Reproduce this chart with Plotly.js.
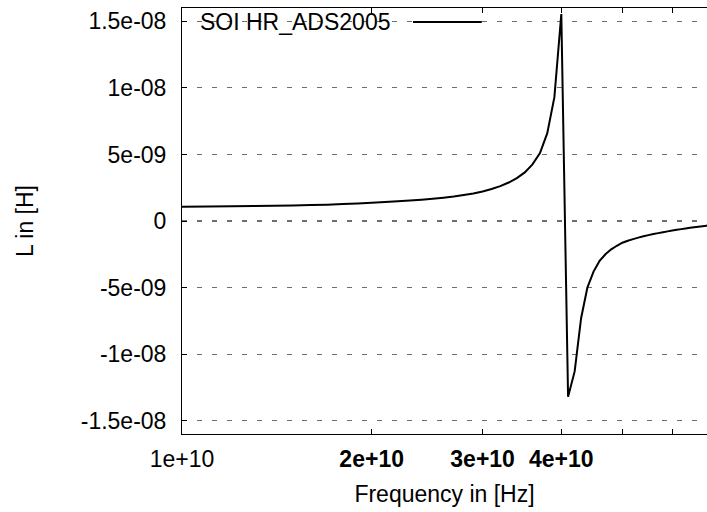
<!DOCTYPE html>
<html>
<head>
<meta charset="utf-8">
<script src="https://cdn.plot.ly/plotly-3.0.1.min.js"></script>
<style>
  html, body { margin: 0; padding: 0; background: #fff; overflow: hidden; }
  #chart { width: 707px; height: 512px; }
</style>
</head>
<body>
<div id="chart"></div>
<script>
// Frequency sweep (GHz) and inductance values (nH)
const freqGHz = [10, 11, 12, 13, 14, 15, 16, 17, 18, 19,
                 20, 21, 22, 23, 24, 25, 26, 27, 28, 29,
                 30, 31, 32, 33, 34, 35, 36, 37, 38, 39,
                 40, 41, 42, 43, 44, 45, 46, 47, 48, 49,
                 50, 51, 52, 53, 54, 55, 56, 57, 58, 59,
                 60, 61, 62, 63, 64, 65, 66, 67, 68, 69, 70];
const inductance_nH = [1.07, 1.08, 1.10, 1.12, 1.14, 1.17, 1.20, 1.23, 1.27, 1.32,
                       1.37, 1.42, 1.48, 1.54, 1.60, 1.67, 1.75, 1.84, 1.95, 2.07,
                       2.22, 2.40, 2.62, 2.89, 3.22, 3.65, 4.25, 5.10, 6.60, 9.30,
                       15.55, -13.2, -11.3, -7.3, -5.0, -3.8, -3.0, -2.5, -2.13, -1.86,
                       -1.63, -1.48, -1.36, -1.25, -1.15, -1.06, -0.98, -0.91, -0.84, -0.78,
                       -0.72, -0.66, -0.61, -0.56, -0.51, -0.47, -0.43, -0.39, -0.35, -0.32, -0.29];
const seriesName = "SOI HR_ADS2005";

const xTickVals = [1e10, 2e10, 3e10, 4e10, 5e10, 6e10];
const xTickText = ["1e+10", "<b>2e+10</b>", "<b>3e+10</b>", "<b>4e+10</b>", "", ""];
const yTickVals = [-1.5e-8, -1e-8, -5e-9, 0, 5e-9, 1e-8, 1.5e-8];
const yTickText = ["-1.5e-08", "-1e-08", "-5e-09", "0", "5e-09", "1e-08", "1.5e-08"];

const FONT = "Liberation Sans, Arial, Helvetica, sans-serif";

const trace = {
  type: "scatter",
  mode: "lines",
  name: seriesName,
  x: freqGHz.map(v => v * 1e9),
  y: inductance_nH.map(v => v * 1e-9),
  line: { color: "#000000", width: 2, simplify: false },
  showlegend: false
};

const layout = {
  width: 707,
  height: 512,
  margin: { l: 182, r: 0, t: 8, b: 78, pad: 0 },
  paper_bgcolor: "#ffffff",
  plot_bgcolor: "#ffffff",
  font: { family: FONT, size: 23, color: "#000000" },
  showlegend: false,
  xaxis: {
    type: "log",
    range: [10, 10.8333],
    tickmode: "array",
    tickvals: xTickVals,
    ticktext: xTickText,
    ticks: "inside",
    ticklen: 5,
    tickcolor: "#000000",
    tickwidth: 1,
    showline: true,
    linecolor: "#000000",
    linewidth: 1,
    mirror: "ticks",
    showgrid: false,
    zeroline: false,
    ticklabelstandoff: 4,
    tickfont: { family: FONT, size: 23, color: "#000000" },
    title: { text: "Frequency in [Hz]", font: { family: FONT, size: 23, color: "#000000" }, standoff: 15 }
  },
  yaxis: {
    range: [-1.6e-8, 1.6e-8],
    tickmode: "array",
    tickvals: yTickVals,
    ticktext: yTickText,
    ticks: "inside",
    ticklen: 5,
    tickcolor: "#000000",
    tickwidth: 1,
    showline: true,
    linecolor: "#000000",
    linewidth: 1,
    mirror: false,
    showgrid: true,
    gridcolor: "#6e6e6e",
    gridwidth: 1.2,
    griddash: "5px,10px",
    zeroline: false,
    ticklabelstandoff: 10,
    tickfont: { family: FONT, size: 23, color: "#000000" },
    title: { text: "L in [H]", font: { family: FONT, size: 23, color: "#000000" }, standoff: 40 }
  },
  shapes: [
    { type: "rect", xref: "paper", yref: "paper", layer: "between",
      x0: 0.012, x1: 0.587, y0: 0.944, y1: 0.986,
      fillcolor: "#ffffff", line: { width: 0 } },
    { type: "line", xref: "paper", yref: "paper",
      x0: 0.44, x1: 0.571, y0: 0.967, y1: 0.967,
      line: { color: "#000000", width: 2 } }
  ],
  annotations: [
    { text: seriesName, xref: "paper", yref: "paper", x: 0.030, y: 0.967,
      xanchor: "left", yanchor: "middle", showarrow: false,
      font: { family: FONT, size: 23, color: "#000000" } }
  ]
};

Plotly.newPlot("chart", [trace], layout, { displayModeBar: false, staticPlot: true });
</script>
</body>
</html>
